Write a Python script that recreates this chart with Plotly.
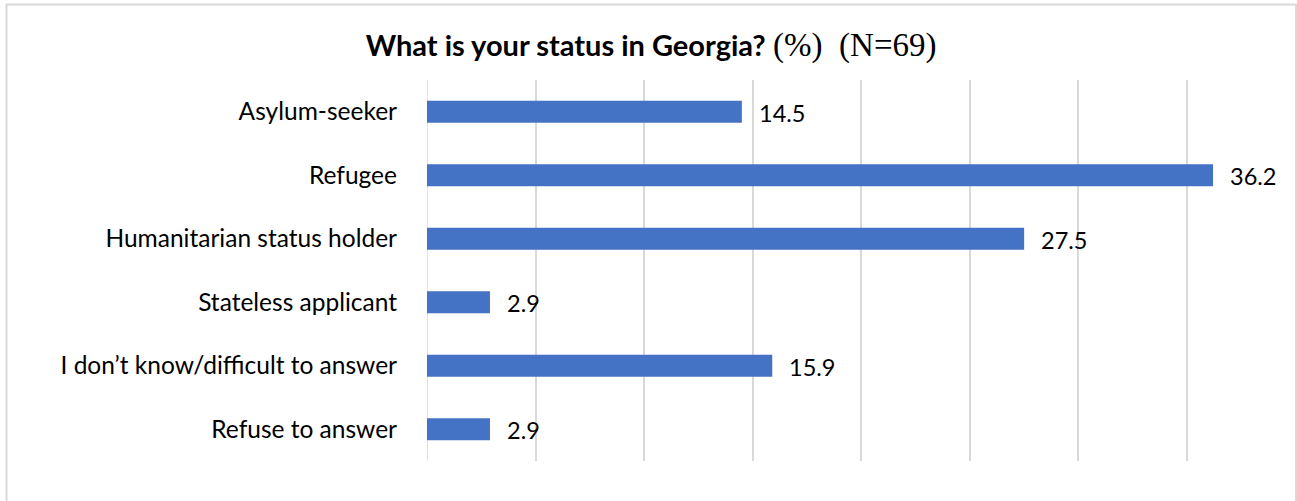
import plotly.graph_objects as go

categories = ["Asylum-seeker", "Refugee", "Humanitarian status holder",
              "Stateless applicant", "I don\u2019t know/difficult to answer", "Refuse to answer"]
values = [14.5, 36.2, 27.5, 2.9, 15.9, 2.9]
value_labels = ["14.5", "36.2", "27.5", "2.9", "15.9", "2.9"]
grid_ticks = [0, 5, 10, 15, 20, 25, 30, 35]

W, H = 1297, 501
ML, MR, MT, MB = 427, 34, 80, 40
pw = W - ML - MR
ph = H - MT - MB

fig = go.Figure()
fig.add_trace(go.Bar(
    x=values, y=categories, orientation="h",
    marker=dict(color="#4472C4", line=dict(width=0)),
    width=0.35, hoverinfo="skip",
))

for v, c, t in zip(values, categories, value_labels):
    fig.add_annotation(x=v, y=c, text=t, showarrow=False, xanchor="left",
                       xshift=15, yshift=-1,
                       font=dict(family="Lato, Carlito, sans-serif", size=23.5, color="#000000"))

# vertical line at the axis origin (gridline at 0)
fig.add_shape(type="line", xref="x", yref="paper", x0=0, x1=0, y0=0, y1=1,
              line=dict(color="#D9D9D9", width=1.5), layer="below")

# outer chart border
bx0 = (6.5 - ML) / pw
bx1 = (1296 - ML) / pw
by1 = (H - MB - 4.5) / ph
by0 = (H - MB - 520) / ph
fig.add_shape(type="rect", xref="paper", yref="paper", x0=bx0, x1=bx1, y0=by0, y1=by1,
              line=dict(color="#D9D9D9", width=2), fillcolor="rgba(0,0,0,0)", layer="below")

fig.update_layout(
    width=W, height=H,
    margin=dict(l=ML, r=MR, t=MT, b=MB, pad=0),
    paper_bgcolor="white", plot_bgcolor="white",
    showlegend=False,
    title=dict(
        text="<b>What is your status in Georgia?</b> <span style='font-family:\"Liberation Serif\", \"Times New Roman\", serif; font-size:33px'>(%)\u2002(N=69)</span>",
        x=0.502, xref="container", xanchor="center",
        y=1 - 46 / H, yref="container", yanchor="middle",
        font=dict(family="Lato, Carlito, sans-serif", size=29, color="#000000"),
    ),
    xaxis=dict(range=[0, 38.5], tickvals=grid_ticks, showticklabels=False,
               showgrid=True, gridcolor="#D9D9D9", gridwidth=1.5,
               zeroline=False, showline=False, fixedrange=True),
    yaxis=dict(autorange="reversed", showgrid=False, zeroline=False, showline=False,
               ticks="", ticklabelstandoff=29,
               tickfont=dict(family="Lato, Carlito, sans-serif", size=24.5, color="#000000")),
)

fig.write_html("out.html")
